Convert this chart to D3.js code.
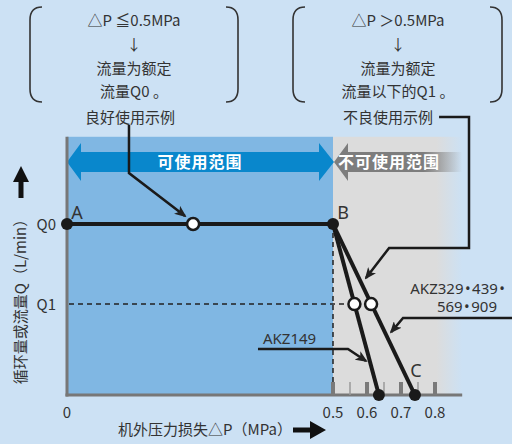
<!DOCTYPE html>
<html>
<head>
<meta charset="utf-8">
<script src="https://cdn.jsdelivr.net/npm/d3@7"></script>
<style>
  body { margin: 0; background: #cce1f4; }
  svg text { font-family: "Noto Sans CJK SC", "Noto Sans", sans-serif; fill: #333; }
  svg text.latin { font-family: "Noto Sans", sans-serif; }
</style>
</head>
<body>
<script>
// data (pressure in MPa, flow as fraction of rated flow Q0)
const majorTicks = [0, 0.5, 0.6, 0.7, 0.8];
const minorTicks = [0.55, 0.65, 0.75];
const flowLabels = ["Q0", "Q1"];
const flowValues = [1.0, 0.532];
const goodLine = [[0, 1.0], [0.5, 1.0]];               // A -> B
const akz149Line = [[0.5, 1.0], [0.635, 0]];
const akz329Line = [[0.5, 1.0], [0.741, 0]];           // B -> C
const filledPoints = [[0, 1.0], [0.5, 1.0], [0.635, 0], [0.741, 0]];
const openPoints = [[0.237, 1.0], [0.563, 0.532], [0.612, 0.532]];
const pMax = 0.88, qMax = 1.51;

const leftNote = ["△P ≦0.5MPa", "↓", "流量为额定", "流量Q0 。"];
const rightNote = ["△P ＞0.5MPa", "↓", "流量为额定", "流量以下的Q1 。"];

// callout paths in data units
const calloutGood = [[0.1165, 1.58], [0.1165, 1.298], [0.2218, 1.047]];
const calloutBad = [[0.812, 1.626], [0.9, 1.626], [0.9, 0.86], [0.665, 0.86], [0.597, 0.684]];
const callout329 = [[1.03, 0.450], [0.706, 0.450], [0.671, 0.368]];
const callout149 = [[0.359, 0.269], [0.544, 0.269], [0.597, 0.199]];

const W = 512, H = 444;
const bg = "#cce1f4";

const x = d3.scaleLinear().domain([0, 0.5, 0.8, 1.1]).range([67, 333, 435, 537]);
const y = d3.scaleLinear().domain([0, 1]).range([395, 224]);

const svg = d3.select("body").append("svg")
  .attr("width", W).attr("height", H);

svg.append("rect").attr("width", W).attr("height", H).attr("fill", bg);

const defs = svg.append("defs");
const gGray = defs.append("linearGradient").attr("id", "grayFade");
gGray.append("stop").attr("offset", 0).attr("stop-color", "#dcdcdc");
gGray.append("stop").attr("offset", 0.8).attr("stop-color", "#dcdcdc");
gGray.append("stop").attr("offset", 1).attr("stop-color", bg);

const gArrow = defs.append("linearGradient").attr("id", "arrowFade")
  .attr("gradientUnits", "userSpaceOnUse")
  .attr("x1", x(0.5)).attr("x2", x(pMax)).attr("y1", 0).attr("y2", 0);
gArrow.append("stop").attr("offset", 0).attr("stop-color", "#7d7d7d");
gArrow.append("stop").attr("offset", 0.7).attr("stop-color", "#7d7d7d");
gArrow.append("stop").attr("offset", 1).attr("stop-color", "#7d7d7d").attr("stop-opacity", 0);

defs.append("marker")
  .attr("id", "head")
  .attr("viewBox", "0 0 12 10")
  .attr("refX", 10).attr("refY", 5)
  .attr("markerWidth", 12).attr("markerHeight", 10)
  .attr("markerUnits", "userSpaceOnUse")
  .attr("orient", "auto")
  .append("path").attr("d", "M0,0 L12,5 L0,10 L3,5 Z").attr("fill", "#222");

// regions
svg.append("rect")
  .attr("x", x(0)).attr("y", y(qMax))
  .attr("width", x(0.5) - x(0)).attr("height", y(0) - y(qMax))
  .attr("fill", "#80b7e3");
svg.append("rect")
  .attr("x", x(0.5)).attr("y", y(qMax))
  .attr("width", x(pMax) - x(0.5)).attr("height", y(0) - y(qMax))
  .attr("fill", "url(#grayFade)");

// range arrows
const bandMid = 162;
const xa0 = x(0), xa1 = x(0.5);
svg.append("path")
  .attr("d", "M" + xa0 + "," + bandMid + " L" + (xa0 + 14) + ",143 L" + (xa0 + 14) + ",152 L" + (xa1 - 14) + ",152 L" +
    (xa1 - 14) + ",143 L" + (xa1 + 1) + "," + bandMid + " L" + (xa1 - 14) + ",181 L" + (xa1 - 14) + ",172 L" +
    (xa0 + 14) + ",172 L" + (xa0 + 14) + ",181 Z")
  .attr("fill", "#0987cc");
svg.append("text").attr("x", 200).attr("y", bandMid + 5.5)
  .attr("text-anchor", "middle").attr("font-size", 16).attr("font-weight", "bold")
  .attr("letter-spacing", 1).style("fill", "#fff").text("可使用范围");

svg.append("path")
  .attr("d", "M" + (xa1 + 1) + "," + bandMid + " L" + (xa1 + 15) + ",143 L" + (xa1 + 15) + ",152 L" + x(pMax) +
    ",152 L" + x(pMax) + ",172 L" + (xa1 + 15) + ",172 L" + (xa1 + 15) + ",181 Z")
  .attr("fill", "url(#arrowFade)");
svg.append("text").attr("x", 389).attr("y", bandMid + 5.5)
  .attr("text-anchor", "middle").attr("font-size", 16).attr("font-weight", "bold")
  .attr("letter-spacing", 1).style("fill", "#fff").text("不可使用范围");

// axes
svg.append("line")
  .attr("x1", x(0)).attr("x2", x(0)).attr("y1", y(qMax)).attr("y2", y(0) + 1.5)
  .attr("stroke", "#777").attr("stroke-width", 3);
svg.append("line")
  .attr("x1", x(0) - 1.5).attr("x2", x(pMax)).attr("y1", y(0)).attr("y2", y(0))
  .attr("stroke", "#777").attr("stroke-width", 3);

svg.selectAll(".tmaj").data(majorTicks.filter(function(d) { return d > 0; }))
  .enter().append("rect").attr("class", "tmaj")
  .attr("x", function(d) { return x(d) - 2; }).attr("y", y(0) - 13)
  .attr("width", 4).attr("height", 13).attr("fill", "#7a7a7a");
svg.selectAll(".tmin").data(minorTicks)
  .enter().append("rect").attr("class", "tmin")
  .attr("x", function(d) { return x(d) - 0.75; }).attr("y", y(0) - 13)
  .attr("width", 1.5).attr("height", 13).attr("fill", "#999");

svg.selectAll(".xlab").data(majorTicks)
  .enter().append("text").attr("class", "xlab")
  .attr("x", function(d) { return x(d); }).attr("y", 418)
  .attr("text-anchor", "middle").attr("font-size", 15)
  .text(function(d) { return d === 0 ? "0" : d.toFixed(1); });

svg.selectAll(".ylab").data(flowValues)
  .enter().append("text").attr("class", "ylab")
  .attr("x", 56).attr("y", function(d) { return y(d) + 5.5; })
  .attr("text-anchor", "end").attr("font-size", 15)
  .text(function(d, i) { return flowLabels[i]; });

svg.append("text").attr("x", 205).attr("y", 435)
  .attr("text-anchor", "middle").attr("font-size", 15)
  .text("机外压力损失△P（MPa）");
svg.append("path").attr("d", "M293,427.5 L310,427.5 L310,421 L326,430 L310,439 L310,432.5 L293,432.5 Z")
  .attr("fill", "#111");

svg.append("text")
  .attr("transform", "translate(26,298) rotate(-90)")
  .attr("text-anchor", "middle").attr("font-size", 15)
  .text("循环量或流量Q（L/min）");
svg.append("path").attr("d", "M21,166 L29,182 L23.5,182 L23.5,198 L18.5,198 L18.5,182 L13,182 Z")
  .attr("fill", "#111");

// dashed guides
svg.append("line")
  .attr("x1", x(0.5)).attr("x2", x(0.5)).attr("y1", y(1)).attr("y2", y(0) - 13)
  .attr("stroke", "#222").attr("stroke-width", 1.5).attr("stroke-dasharray", "5,4");
svg.append("line")
  .attr("x1", x(0) + 2).attr("x2", x(openPoints[1][0])).attr("y1", y(flowValues[1])).attr("y2", y(flowValues[1]))
  .attr("stroke", "#222").attr("stroke-width", 1.5).attr("stroke-dasharray", "5,4");

// curves
const line = d3.line().x(function(d) { return x(d[0]); }).y(function(d) { return y(d[1]); });
[goodLine, akz149Line, akz329Line].forEach(function(l) {
  svg.append("path").attr("d", line(l)).attr("fill", "none")
    .attr("stroke", "#1a1a1a").attr("stroke-width", 4);
});

svg.selectAll(".dot").data(filledPoints).enter().append("circle").attr("class", "dot")
  .attr("cx", function(d) { return x(d[0]); }).attr("cy", function(d) { return y(d[1]); })
  .attr("r", 6).attr("fill", "#1a1a1a");
svg.selectAll(".odot").data(openPoints).enter().append("circle").attr("class", "odot")
  .attr("cx", function(d) { return x(d[0]); }).attr("cy", function(d) { return y(d[1]); })
  .attr("r", 6).attr("fill", "#fff").attr("stroke", "#1a1a1a").attr("stroke-width", 2.5);

svg.append("text").attr("class", "latin").attr("x", x(0) + 10).attr("y", y(1) - 5).attr("text-anchor", "middle").attr("font-size", 18).text("A");
svg.append("text").attr("class", "latin").attr("x", x(0.5) + 10).attr("y", y(1) - 5).attr("text-anchor", "middle").attr("font-size", 18).text("B");
svg.append("text").attr("class", "latin").attr("x", 416).attr("y", 377).attr("text-anchor", "middle").attr("font-size", 18).text("C");

// callouts
[calloutGood, calloutBad, callout329, callout149].forEach(function(c) {
  svg.append("path").attr("d", line(c)).attr("fill", "none")
    .attr("stroke", "#1a1a1a").attr("stroke-width", 2.5)
    .attr("marker-end", "url(#head)");
});

svg.append("text").attr("class", "latin").attr("x", 505).attr("y", 294).attr("text-anchor", "end").attr("font-size", 15).text("AKZ329\u200A•\u200A439\u200A•");
svg.append("text").attr("class", "latin").attr("x", 497).attr("y", 312).attr("text-anchor", "end").attr("font-size", 15).text("569\u200A•\u200A909");
svg.append("text").attr("class", "latin").attr("x", 263).attr("y", 344).attr("font-size", 15).text("AKZ149");

// notes on top
function bracket(xl, xr) {
  svg.append("path").attr("d", "M" + (xl + 12) + ",7 Q" + xl + ",7 " + xl + ",20 L" + xl + ",89 Q" + xl + ",102 " + (xl + 12) + ",102")
    .attr("fill", "none").attr("stroke", "#333").attr("stroke-width", 1.6);
  svg.append("path").attr("d", "M" + (xr - 12) + ",7 Q" + xr + ",7 " + xr + ",20 L" + xr + ",89 Q" + xr + ",102 " + (xr - 12) + ",102")
    .attr("fill", "none").attr("stroke", "#333").attr("stroke-width", 1.6);
}
bracket(30, 238);
bracket(293, 502);

const noteY = [20, 44, 68, 91];
svg.selectAll(".nl").data(leftNote).enter().append("text").attr("class", "nl")
  .attr("x", 134).attr("y", function(d, i) { return noteY[i] + 5.5; })
  .attr("text-anchor", "middle").attr("font-size", 15).text(function(d) { return d; });
svg.selectAll(".nr").data(rightNote).enter().append("text").attr("class", "nr")
  .attr("x", 398).attr("y", function(d, i) { return noteY[i] + 5.5; })
  .attr("text-anchor", "middle").attr("font-size", 15).text(function(d) { return d; });

svg.append("text").attr("x", 130).attr("y", 122.5).attr("text-anchor", "middle").attr("font-size", 15).text("良好使用示例");
svg.append("text").attr("x", 388).attr("y", 122.5).attr("text-anchor", "middle").attr("font-size", 15).text("不良使用示例");
</script>
</body>
</html>
